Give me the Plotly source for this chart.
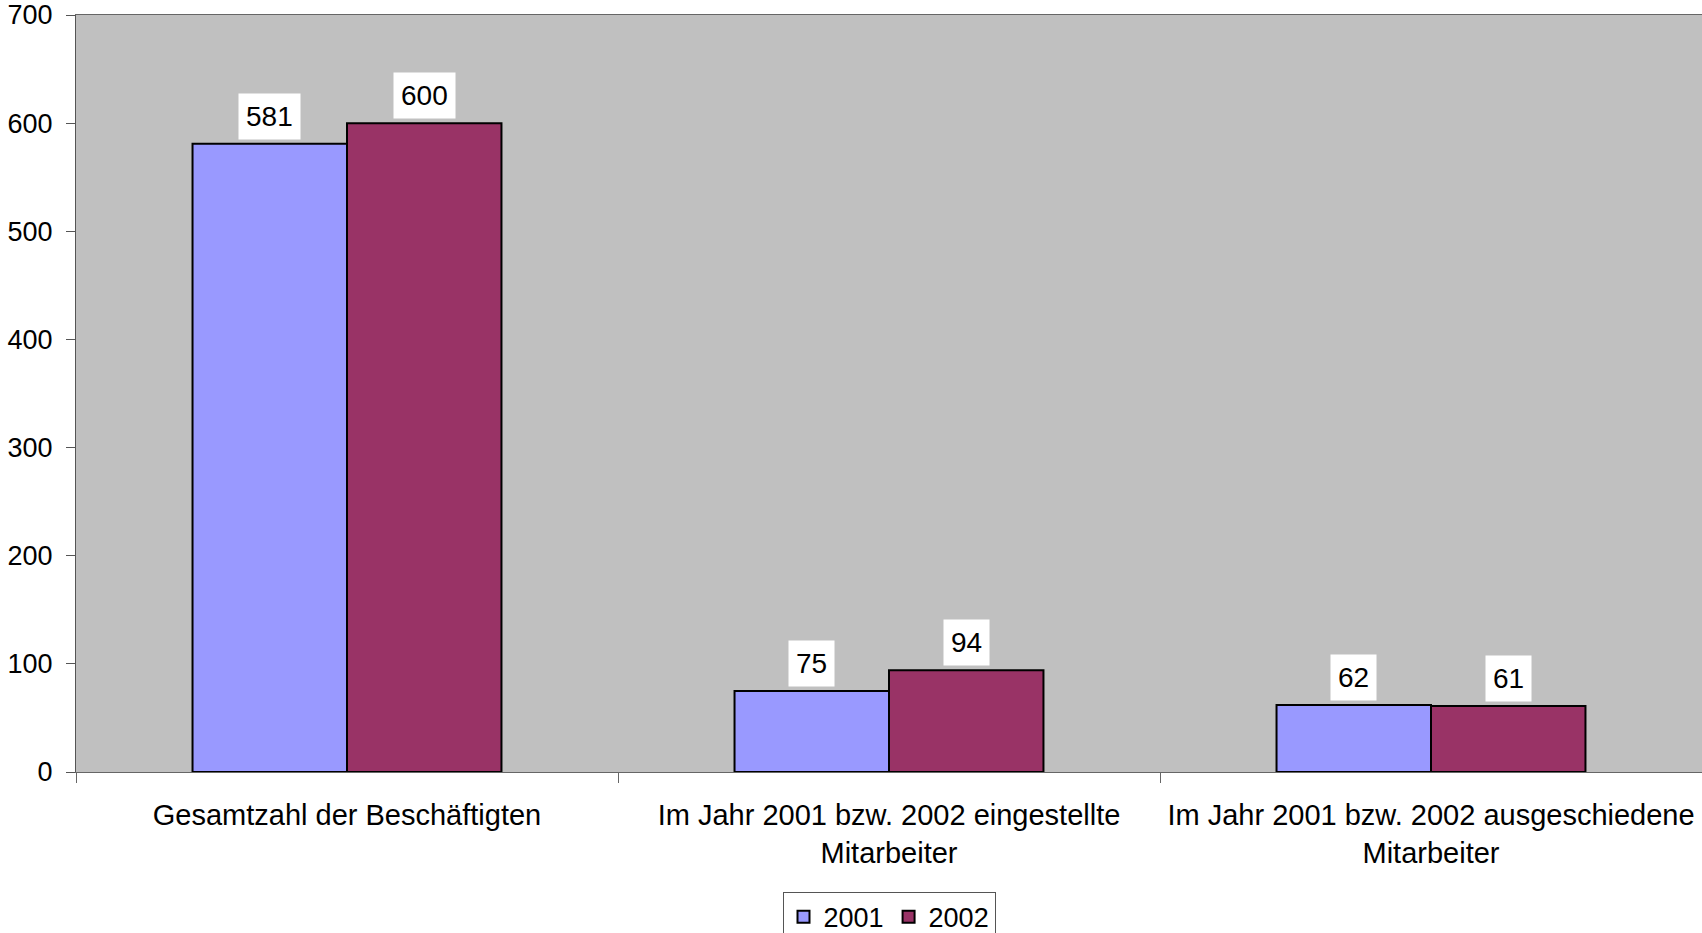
import plotly.graph_objects as go

categories = [
    "Gesamtzahl der Beschäftigten",
    "Im Jahr 2001 bzw. 2002 eingestellte<br>Mitarbeiter",
    "Im Jahr 2001 bzw. 2002 ausgeschiedene<br>Mitarbeiter",
]
series_names = ["2001", "2002"]
values_2001 = [581, 75, 62]
values_2002 = [600, 94, 61]
colors = ["#9999FF", "#993366"]

W, H = 1702, 933
ML, MR, MT, MB = 76, 0, 15, 161
bargap = 0.43

FONT = "Liberation Sans, Arial, sans-serif"

fig = go.Figure()
for name, vals, col in zip(series_names, [values_2001, values_2002], colors):
    fig.add_trace(go.Bar(
        name=name, x=categories, y=vals,
        marker=dict(color=col, line=dict(color="black", width=2)),
    ))

px_per_cat = (W - ML - MR) / len(categories)
bar_px = (1 - bargap) / 2 * px_per_cat
annotations = []
for si, vals in enumerate([values_2001, values_2002]):
    shift = (si - 0.5) * bar_px
    for ci, v in enumerate(vals):
        annotations.append(dict(
            x=ci, y=v, xref="x", yref="y", text=str(v), showarrow=False,
            xanchor="center", yanchor="bottom", xshift=shift, yshift=4,
            bgcolor="white", borderpad=7,
            font=dict(family=FONT, size=28, color="black"),
        ))

fig.update_layout(
    width=W, height=H,
    margin=dict(l=ML, r=MR, t=MT, b=MB, autoexpand=False),
    paper_bgcolor="white", plot_bgcolor="#C0C0C0",
    barmode="group", bargap=bargap, bargroupgap=0,
    font=dict(family=FONT, size=27, color="black"),
    annotations=annotations,
    showlegend=True,
    legend=dict(
        orientation="h", x=0.5, xanchor="center", y=-0.158, yanchor="top",
        bgcolor="white", bordercolor="#555555", borderwidth=1,
        font=dict(family=FONT, size=27, color="black"),
    ),
)
fig.update_xaxes(
    type="category", showgrid=False, showline=True, linecolor="#666666", linewidth=1,
    mirror=True, ticks="outside", tickson="boundaries", ticklen=10, tickcolor="#666666",
    tickfont=dict(family=FONT, size=29, color="black"),
    tickangle=0, ticklabelstandoff=17,
)
fig.update_yaxes(
    range=[0, 700], dtick=100, showgrid=False, zeroline=False,
    showline=True, linecolor="#555555", linewidth=1,
    ticks="outside", ticklen=9, tickcolor="#555555",
    tickfont=dict(family=FONT, size=27, color="black"),
    ticklabelstandoff=8,
)

fig.write_html("out.html")
